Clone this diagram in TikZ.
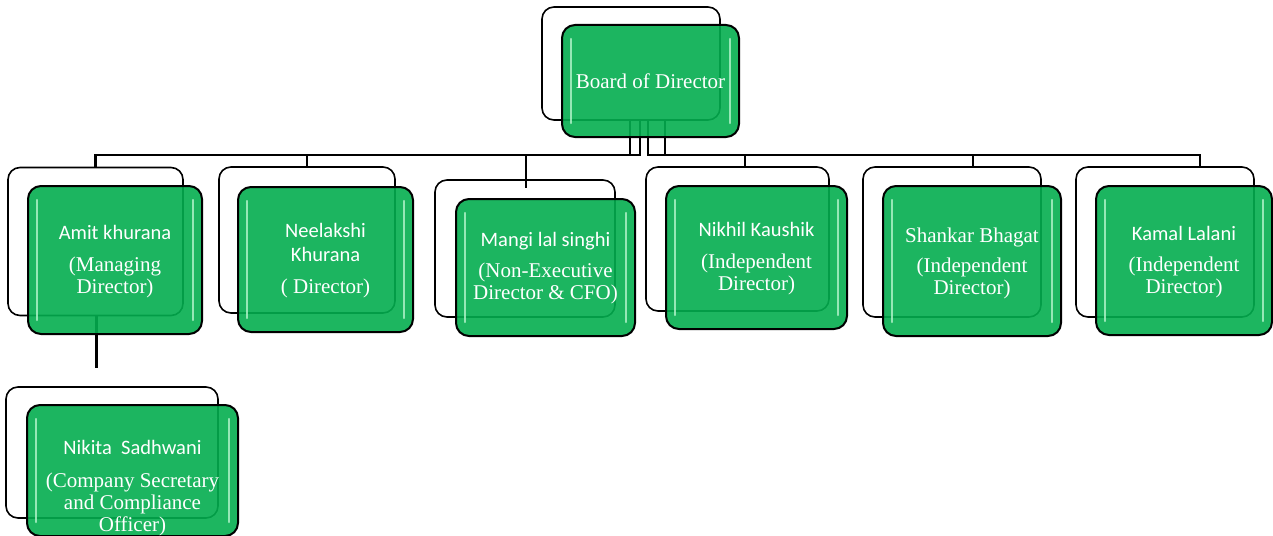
\documentclass[tikz,border=0pt]{standalone}
\usepackage{fontspec}
\setmainfont{Liberation Serif}
\newfontfamily\sansf{Carlito}
\definecolor{boxgreen}{HTML}{04AE4F}
\definecolor{hlgreen}{HTML}{B5F5CC}
\begin{document}
\begin{tikzpicture}[x=1pt,y=-1pt,
  outl/.style={draw=black,line width=1.6pt,fill=white,rounded corners=12pt,inner sep=0pt},
  grn/.style={draw=black,line width=2pt,fill=boxgreen,fill opacity=0.9,rounded corners=13pt,inner sep=0pt},
  conn/.style={draw=black,line width=2.4pt},
  hl/.style={draw=hlgreen,line width=2.5pt,line cap=round,opacity=0.8},
  txt/.style={text=white,align=center,inner sep=0pt,font=\fontsize{21}{22}\selectfont}]
\useasboundingbox (0,0) rectangle (1273,535);
% outline boxes
\node[outl,minimum width=178pt,minimum height=113pt] (bO) at (631,63.5) {};
\node[outl,minimum width=175pt,minimum height=148pt] (amitO) at (95.5,241.5) {};
\node[outl,minimum width=176pt,minimum height=146pt] (neelO) at (307,240) {};
\node[outl,minimum width=180pt,minimum height=137pt] (mangiO) at (525,248.5) {};
\node[outl,minimum width=183pt,minimum height=144pt] (nikhO) at (737.5,239) {};
\node[outl,minimum width=178pt,minimum height=150pt] (shanO) at (952,242) {};
\node[outl,minimum width=178pt,minimum height=150pt] (kamO) at (1165,242) {};
\node[outl,minimum width=212pt,minimum height=131pt] (nikiO) at (112,452.5) {};
% connectors
\coordinate (bus) at (0,155);
\draw[conn] ([xshift=-1pt]bO.south) -- ([xshift=-1pt]bO.south |- bus) -| (amitO.north);
\draw[conn] ([xshift=-1pt]bO.south) -- ([xshift=-1pt]bO.south |- bus) -| (neelO.north);
\coordinate (mangiEnd) at ([xshift=1pt,yshift=-9pt]mangiO.north);
\draw[conn] ([xshift=9pt]bO.south) -- ([xshift=9pt]bO.south |- bus) -| (mangiEnd);
\draw[conn] ([xshift=17pt]bO.south) -- ([xshift=17pt]bO.south |- bus) -| ([xshift=7.5pt]nikhO.north);
\draw[conn] ([xshift=34pt]bO.south) -- ([xshift=34pt]bO.south |- bus) -| ([xshift=21pt]shanO.north);
\draw[conn] ([xshift=34pt]bO.south) -- ([xshift=34pt]bO.south |- bus) -| ([xshift=35pt]kamO.north);
\coordinate (amitEnd) at ([xshift=1pt,yshift=-52pt]amitO.south);
\draw[conn] ([xshift=1pt]amitO.south) -- (amitEnd);
% green boxes
\node[grn,minimum width=177pt,minimum height=112pt] (bG) at (650.5,81) {};
\node[grn,minimum width=174pt,minimum height=148pt] (amitG) at (115,260) {};
\node[grn,minimum width=175pt,minimum height=145pt] (neelG) at (325.5,259.5) {};
\node[grn,minimum width=179pt,minimum height=137pt] (mangiG) at (545.5,267.5) {};
\node[grn,minimum width=181pt,minimum height=143pt] (nikhG) at (756.5,257.5) {};
\node[grn,minimum width=178pt,minimum height=150pt] (shanG) at (972,261) {};
\node[grn,minimum width=176pt,minimum height=149pt] (kamG) at (1184,260.5) {};
\node[grn,minimum width=211pt,minimum height=131pt] (nikiG) at (132.5,470.5) {};
% highlights
\foreach \g in {bG,amitG,neelG,mangiG,nikhG,shanG,kamG,nikiG}{
  \draw[hl] ([xshift=10pt,yshift=-15pt]\g.north west) -- ([xshift=10pt,yshift=15pt]\g.south west);
  \draw[hl] ([xshift=-10pt,yshift=-15pt]\g.north east) -- ([xshift=-10pt,yshift=15pt]\g.south east);
}
% texts
\node[txt] (bT) at (bG) {Board of Director};
\node[txt] (amitT) at ([yshift=-2pt]amitG.center) {{\sansf\fontsize{20.5}{22}\selectfont Amit khurana}\\[10pt](Managing\\Director)};
\node[txt] (neelT) at ([yshift=-1pt]neelG.center) {{\sansf\fontsize{20.5}{22}\selectfont Neelakshi}\\[2pt]{\sansf\fontsize{20.5}{22}\selectfont Khurana}\\[10pt]( Director)};
\node[txt] (mangiT) at ([yshift=-1pt]mangiG.center) {{\sansf\fontsize{20.5}{22}\selectfont Mangi lal singhi}\\[9pt](Non-Executive\\Director \& CFO)};
\node[txt] (nikhT) at ([yshift=-1pt]nikhG.center) {{\sansf\fontsize{20.5}{22}\selectfont Nikhil Kaushik}\\[10pt](Independent\\Director)};
\node[txt] (shanT) at ([yshift=-2pt]shanG.center) {Shankar Bhagat\\[8pt](Independent\\Director)};
\node[txt] (kamT) at ([yshift=-2pt]kamG.center) {{\sansf\fontsize{20.5}{22}\selectfont Kamal Lalani}\\[9pt](Independent\\Director)};
\node[txt] (nikiT) at ([yshift=-18pt]nikiG.center) {{\sansf\fontsize{20.5}{22}\selectfont Nikita\ \ Sadhwani}\\[11pt](Company Secretary\\and Compliance\\Officer)};
\end{tikzpicture}
\end{document}
